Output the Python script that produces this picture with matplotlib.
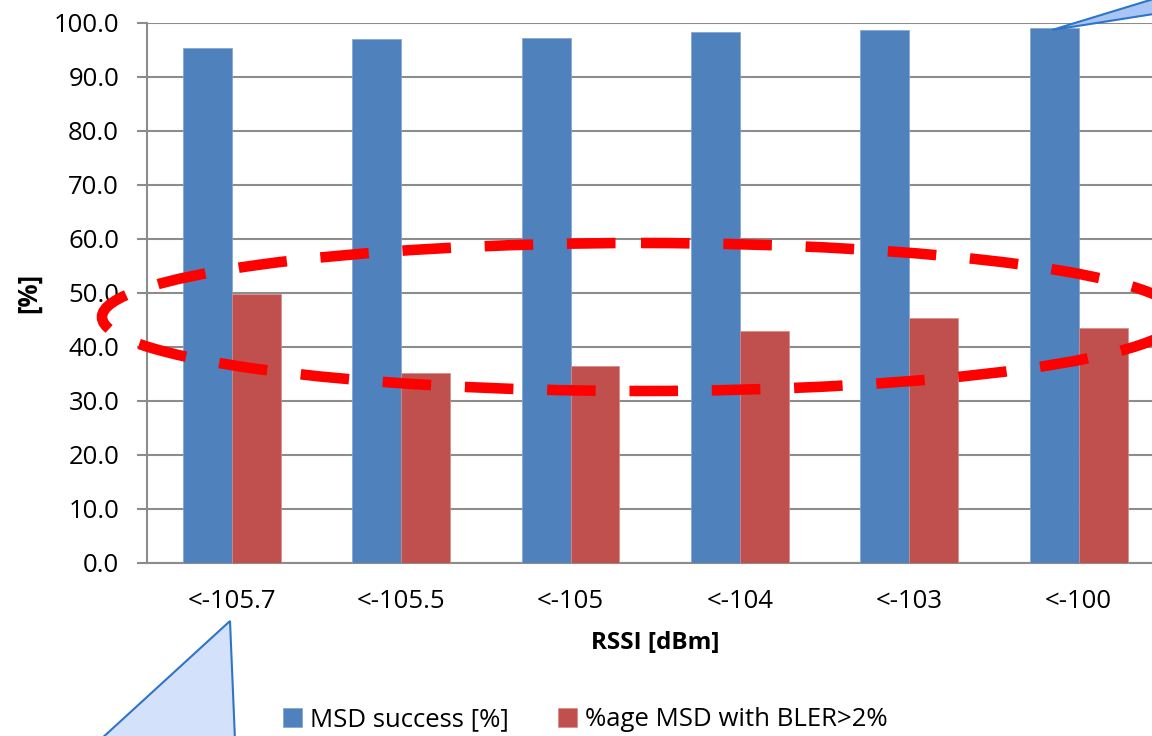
import matplotlib
matplotlib.use("Agg")
import matplotlib.pyplot as plt
from matplotlib.patches import Ellipse, Polygon

plt.rcParams['font.family'] = ['Open Sans', 'DejaVu Sans']

categories = ["<-105.7", "<-105.5", "<-105", "<-104", "<-103", "<-100"]
msd_success = [95.4, 97.0, 97.2, 98.3, 98.7, 99.1]
msd_bler = [49.8, 35.2, 36.5, 43.0, 45.4, 43.5]
series_names = ["MSD success [%]", "%age MSD with BLER>2%"]
yticks = [0, 10, 20, 30, 40, 50, 60, 70, 80, 90, 100]

BLUE = "#4F81BD"
RED = "#C0504D"
GRID = "#8C8C8C"

W, H = 1152, 736
fig = plt.figure(figsize=(W / 100, H / 100), dpi=100)

# axes placed in pixel terms; right side runs off the picture like the source
ax = fig.add_axes([147 / W, 173 / H, 1016.4 / W, 540 / H])

x = list(range(len(categories)))
bw = 0.289
ax.bar([i - bw / 2 for i in x], msd_success, width=bw, color=BLUE,
       edgecolor="#7FA3D0", linewidth=0.5, label=series_names[0], zorder=3)
ax.bar([i + bw / 2 for i in x], msd_bler, width=bw, color=RED,
       edgecolor="#D88A88", linewidth=0.5, label=series_names[1], zorder=3)

ax.set_xlim(-0.5, len(categories) - 0.5)
ax.set_ylim(0, 100)
ax.set_yticks(yticks)
ax.set_yticklabels([f"{v:.1f}" for v in yticks])
ax.set_xticks(x)
ax.set_xticklabels(categories)

ax.yaxis.grid(True, color=GRID, linewidth=1.5, zorder=0)
ax.set_axisbelow(True)
for s in ["top", "right"]:
    ax.spines[s].set_visible(False)
for s in ["left", "bottom"]:
    ax.spines[s].set_color(GRID)
    ax.spines[s].set_linewidth(1.5)

ax.tick_params(axis="y", length=7, width=1.5, color=GRID, pad=13, labelsize=18.5)
ax.tick_params(axis="x", length=0, pad=19, labelsize=18.5)

ax.set_xlabel("RSSI [dBm]", fontsize=17.5, fontweight="bold", labelpad=12)
ax.set_ylabel("[%]", fontsize=18.5, fontweight="bold")
ax.yaxis.set_label_coords(-0.103, 0.5)

leg = fig.legend(loc="center", bbox_to_anchor=(0.508, 1 - 720 / H), ncol=2,
                 frameon=False, fontsize=18.5, handlelength=0.75, handleheight=0.75,
                 handletextpad=0.3, columnspacing=1.9)

# overlay in pixel coordinates for the slide decorations
ov = fig.add_axes([0, 0, 1, 1], zorder=10)
ov.set_xlim(0, W)
ov.set_ylim(H, 0)
ov.axis("off")
ov.patch.set_alpha(0)

ell = Ellipse((641, 317), 1078, 148, fill=False, edgecolor="#FF0000",
              linewidth=7.6, linestyle=(0, (4.6, 3.2)), clip_on=False)
ov.add_patch(ell)

tri1 = Polygon([(230, 621), (100, 740), (235, 740)], closed=True,
               facecolor="#D3E1FA", edgecolor="#2E75C8", linewidth=1.5,
               clip_on=False)
ov.add_patch(tri1)
tri2 = Polygon([(1052, 30), (1160, -3), (1160, 13)], closed=True,
               facecolor="#A9C5F5", edgecolor="#2E75C8", linewidth=1.5,
               clip_on=False)
ov.add_patch(tri2)

fig.savefig("out.png", dpi=100)
